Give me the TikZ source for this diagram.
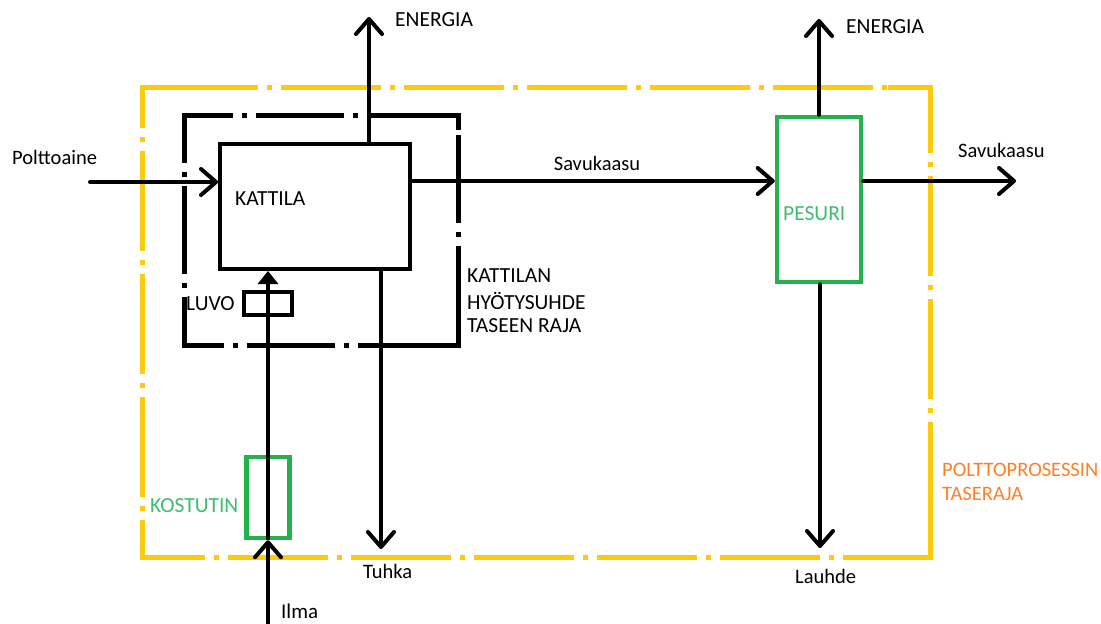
\documentclass[tikz,border=0pt]{standalone}
\usepackage{fontspec}
\setmainfont{Carlito}
\usetikzlibrary{arrows.meta}
\definecolor{pyellow}{RGB}{255,201,14}
\definecolor{pgreen}{RGB}{34,177,76}
\definecolor{ptgreen}{RGB}{60,190,110}
\definecolor{porange}{RGB}{255,127,39}
\tikzset{
  flow/.style={line width=4pt, line cap=round, line join=round},
  barb/.style={-{Straight Barb[length=15pt,width=26pt,line width=4pt,round]}},
  tri/.style={-{Triangle[length=13pt,width=20pt]}},
  blackbox/.style={draw=black, line width=4pt, inner sep=0pt},
  greenbox/.style={draw=pgreen, line width=4.5pt, inner sep=0pt},
  lbl/.style={font=\fontsize{21.5}{24}\selectfont, inner sep=0pt, anchor=west},
  lbls/.style={font=\fontsize{20.5}{24}\selectfont, inner sep=0pt, anchor=west},
  boundyellow/.style={draw=pyellow, line width=5pt, dash pattern=on 100pt off 9pt on 5pt off 9pt, dash phase=60pt},
  cornyellow/.style={draw=pyellow, line width=5pt, line join=miter},
  boundblack/.style={draw=black, line width=5pt, dash pattern=on 88pt off 9pt on 5pt off 9pt, dash phase=40pt},
  cornblack/.style={draw=black, line width=5pt, line join=miter}
}
\begin{document}
\begin{tikzpicture}[x=1pt,y=-1pt]
\path[use as bounding box] (0,0) rectangle (1101,624);
% boundaries
\coordinate (ya) at (142.5,87.5);
\coordinate (yb) at (930,557.5);
\draw[boundyellow] (ya) rectangle (yb);
\draw[cornyellow] (142.5,127) -- (ya) -- (185,87.5);
\draw[cornyellow] (888,87.5) -- (930,87.5) -- (930,128);
\draw[cornyellow] (930,520) -- (yb) -- (895,557.5);
\draw[cornyellow] (180,557.5) -- (142.5,557.5) -- (142.5,520);
\coordinate (ba) at (184,115);
\coordinate (bb) at (458,345);
\draw[boundblack] (ba) rectangle (bb);
\draw[cornblack] (184,128) -- (ba) -- (188,115);
\draw[cornblack] (420,115) -- (458,115) -- (458,130);
\draw[cornblack] (458,330) -- (bb) -- (420,345);
\draw[cornblack] (190,345) -- (184,345) -- (184,330);
% boxes
\node[blackbox, minimum width=190pt, minimum height=125pt] (kattila) at (315,206.5) {};
\node[greenbox, minimum width=84pt, minimum height=165pt] (pesuri) at (819,199.5) {};
\node[blackbox, minimum width=48pt, minimum height=23pt] (luvo) at (268,303.5) {};
\node[greenbox, minimum width=43pt, minimum height=81pt] (kostutin) at (268,497.5) {};
% free ends
\coordinate (fuelin) at (90,182);
\coordinate (energy1) at (369,17);
\coordinate (energy2) at (819,19);
\coordinate (gasout) at (1016,181);
\coordinate (ashout) at (381,549);
\coordinate (condout) at (820,548);
\coordinate (airin) at (268,624);
% connectors
\draw[flow,barb] (fuelin) -- (kattila.west |- fuelin);
\draw[flow,barb] (kattila.north -| energy1) -- (energy1);
\draw[flow,barb] (kattila.east |- gasout) -- (pesuri.west |- gasout);
\draw[flow,barb] (pesuri.north) -- (energy2);
\draw[flow,barb] (pesuri.east |- gasout) -- (gasout);
\draw[flow,barb] (pesuri.south -| condout) -- (condout);
\draw[flow,barb] (kattila.south -| ashout) -- (ashout);
\draw[flow,barb] (airin) -- (kostutin.south);
\draw[line width=4pt,tri] (kostutin.south) -- (kattila.south -| kostutin.south);
% labels
\node[lbl] (tkattila) at (235,199) {KATTILA};
\node[lbl] (tenergy1) at (395,20) {ENERGIA};
\node[lbl] (tenergy2) at (846,27) {ENERGIA};
\node[lbls] (tfuel) at (12,157) {Polttoaine};
\node[lbls, anchor=center] (tgas1) at (597,163) {Savukaasu};
\node[lbls] (tgas2) at (958,150) {Savukaasu};
\node[lbl, text=ptgreen] (tpesuri) at (783,214) {PESURI};
\node[lbl] (tluvo) at (186,304) {LUVO};
\node[lbl, text=ptgreen] (tkost) at (150,506) {KOSTUTIN};
\node[lbls] (ttuhka) at (363,571) {Tuhka};
\node[lbls] (tlauhde) at (795,576) {Lauhde};
\node[lbl, font=\fontsize{21}{24}\selectfont, anchor=base west] (tilma) at (281,618) {Ilma};
\node[lbl] (tkr1) at (467,276) {KATTILAN};
\node[lbl] (tkr2) at (467,301) {HYÖTYSUHDE};
\node[lbl] (tkr3) at (467,326) {TASEEN RAJA};
\node[lbls, text=porange] (tpp1) at (942,470) {POLTTOPROSESSIN};
\node[lbls, text=porange] (tpp2) at (942,494) {TASERAJA};
\end{tikzpicture}
\end{document}
